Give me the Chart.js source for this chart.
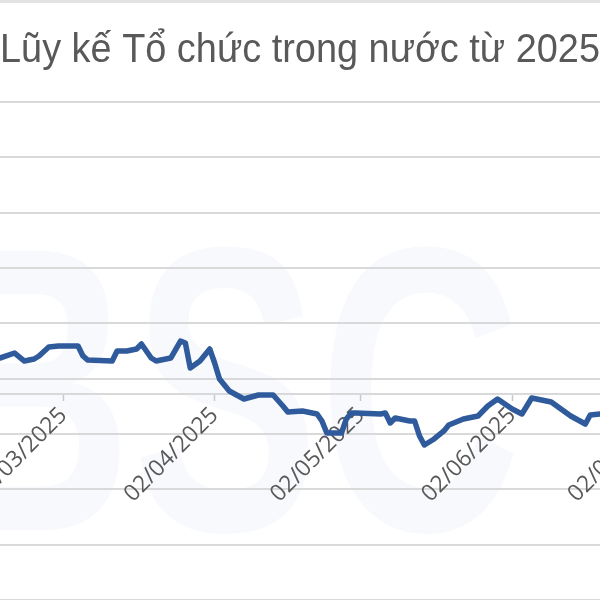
<!DOCTYPE html>
<html lang="vi">
<head>
    <meta charset="UTF-8">
    <meta name="viewport" content="width=device-width, initial-scale=1.0">
    <script src="https://cdn.jsdelivr.net/npm/chart.js"></script>
    <title>Lũy kế Tổ chức trong nước từ 2025</title>
    <style>
        html, body { margin: 0; padding: 0; background: #fff; }
        #wrap { position: relative; width: 600px; height: 600px; overflow: hidden; }
        #topLine { position: absolute; left: 0; top: 0; width: 600px; height: 3px; background: #e3e3e3; }
    </style>
</head>
<body>
    <div id="wrap">
        <canvas id="myChart" width="600" height="600"></canvas>
        <div id="topLine"></div>
    </div>

    <script>
        // ngày trong năm (1 = 01/01/2025)
        const days = [48, 51, 53, 55, 56, 58, 60, 64, 65, 66, 71, 72, 74, 76, 77, 79, 80, 83, 85, 86,
            87, 89, 91, 92, 93, 95, 98, 101, 104, 106, 107, 110, 113, 114, 115, 118, 119, 120, 121, 126,
            127, 128, 129, 132, 133, 134, 135, 137, 139, 140, 143, 146, 148, 150, 153, 155, 157, 159, 161, 165,
            168, 169, 171];

        // lũy kế (tỷ đồng, ước lượng)
        const cumValues = [6160, 7020, 5650, 5990, 6510, 8050, 8220, 8220, 6510, 5820, 5650, 7360, 7360, 7700, 8560, 6160, 5650, 6160, 9070, 8730,
            4450, 5650, 7700, 5310, 2570, 510, -860, -170, -170, -2050, -3080, -2910, -3420, -4620, -6680, -6680, -4280, -3250, -3250, -3420,
            -3250, -4960, -4110, -4620, -4620, -7190, -8730, -7700, -6330, -5310, -4280, -3770, -2050, -860, -2570, -3420, -680, -1030, -1370, -3770,
            -5140, -3600, -3420];

        const tickDays = [61, 92, 122, 153, 183];
        const tickLabels = ["02/03/2025", "02/04/2025", "02/05/2025", "02/06/2025", "02/07/2025"];

        const points = days.map(function(d, i) {
            return { x: d, y: cumValues[i] };
        });

        // logo mờ phía sau
        const watermark = {
            id: "watermark",
            beforeDraw: function(chart) {
                const ctx = chart.ctx;
                ctx.save();
                ctx.fillStyle = "rgba(225, 233, 246, 0.28)";
                ctx.font = "bold 280px 'Liberation Sans'";
                ctx.translate(-70, 530);
                ctx.scale(1, 1.45);
                ctx.fillText("BSC", 0, 0);
                ctx.restore();
            }
        };

        new Chart("myChart", {
            type: "line",
            data: {
                datasets: [{
                    data: points,
                    borderColor: "#2f5b9d",
                    borderWidth: 5.5,
                    pointRadius: 0,
                    tension: 0,
                    borderJoinStyle: "round",
                    borderCapStyle: "round"
                }]
            },
            plugins: [watermark],
            options: {
                responsive: false,
                animation: false,
                layout: { padding: 0 },
                plugins: {
                    legend: { display: false },
                    tooltip: { enabled: false },
                    title: {
                        display: true,
                        text: "Lũy kế Tổ chức trong nước từ 2025",
                        align: "start",
                        color: "#595959",
                        font: { family: "'Liberation Sans', Arial", size: 40, weight: "normal", lineHeight: 1.2 },
                        padding: { top: 27, bottom: 27 }
                    }
                },
                scales: {
                    x: {
                        type: "linear",
                        min: 48,
                        max: 171,
                        position: { y: 0 },
                        afterBuildTicks: function(scale) {
                            scale.ticks = tickDays.map(function(d) { return { value: d }; });
                        },
                        afterFit: function(scale) {
                            scale.paddingLeft = 0;
                            scale.paddingRight = 0;
                        },
                        grid: {
                            drawOnChartArea: false,
                            drawTicks: true,
                            tickLength: 6,
                            tickColor: "#c8c8c8",
                            tickWidth: 1.5
                        },
                        border: { display: true, color: "#d9d9d9", width: 2 },
                        ticks: {
                            autoSkip: false,
                            maxRotation: 45,
                            minRotation: 45,
                            color: "#595959",
                            padding: 2,
                            font: { family: "'Open Sans'", size: 23 },
                            callback: function(value) {
                                const i = tickDays.indexOf(value);
                                return i >= 0 ? tickLabels[i] : "";
                            }
                        }
                    },
                    y: {
                        min: -35274,
                        max: 50000,
                        grid: {
                            color: "#d9d9d9",
                            lineWidth: 2,
                            drawTicks: false
                        },
                        border: { display: false },
                        ticks: {
                            display: false,
                            stepSize: 10000,
                            includeBounds: false
                        }
                    }
                }
            }
        });
    </script>
</body>
</html>
